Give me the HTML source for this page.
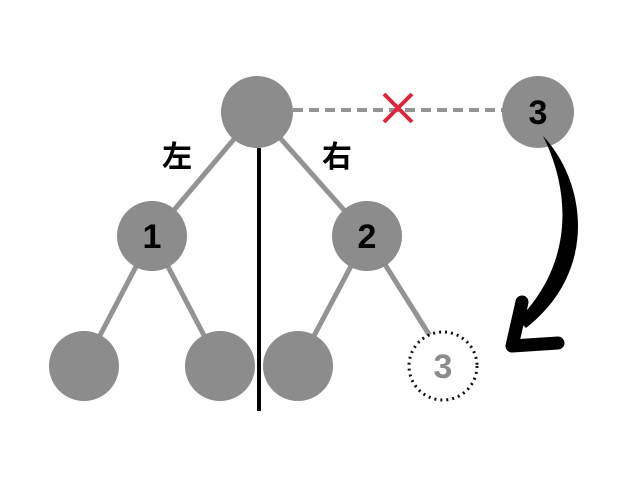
<!DOCTYPE html>
<html><head><style>body{margin:0;background:#fff}</style></head><body>
<svg width="640" height="480" xmlns="http://www.w3.org/2000/svg" font-family="Liberation Sans, Noto Sans CJK JP, sans-serif">
<rect width="640" height="480" fill="#fff"/>
<g stroke="#939393" stroke-width="5">
<line x1="257" y1="112" x2="152" y2="236"/>
<line x1="257" y1="112" x2="367" y2="236"/>
<line x1="152" y1="236" x2="84" y2="366"/>
<line x1="152" y1="236" x2="220" y2="366"/>
<line x1="367" y1="236" x2="298" y2="366"/>
<line x1="367" y1="236" x2="430" y2="336"/>
</g>
<line x1="293" y1="110" x2="503" y2="110" stroke="#939393" stroke-width="4" stroke-dasharray="10,6"/>
<g fill="#8c8c8c">
<circle cx="257" cy="112" r="36"/>
<circle cx="152" cy="236" r="35"/>
<circle cx="367" cy="236" r="35"/>
<circle cx="84" cy="366" r="35"/>
<circle cx="220" cy="366" r="35"/>
<circle cx="298" cy="366" r="35"/>
<circle cx="538" cy="112" r="36"/>
</g>
<circle cx="443" cy="366" r="34" fill="#fff" stroke="#111" stroke-width="3" stroke-dasharray="2,4"/>
<line x1="259" y1="148" x2="259" y2="411" stroke="#000" stroke-width="4"/>
<g stroke="#e0253f" stroke-width="4"><line x1="384" y1="94" x2="412" y2="122"/><line x1="412" y1="94" x2="384" y2="122"/></g>
<g font-weight="bold" font-size="34" text-anchor="middle">
<text x="152" y="248">1</text>
<text x="367" y="248">2</text>
<text x="538" y="124">3</text>
<text x="443" y="378" fill="#8c8c8c">3</text>
<text x="177" y="167" font-size="30">左</text>
<text x="337" y="167" font-size="30">右</text>
</g>
<path d="M543,136 C585,180 600,270 526,328 L518,320 C575,262 570,190 543,136 Z" fill="#000"/>
<path d="M522,302 L512,346 L558,343" fill="none" stroke="#000" stroke-width="13" stroke-linecap="round" stroke-linejoin="round"/>
</svg>
</body></html>
